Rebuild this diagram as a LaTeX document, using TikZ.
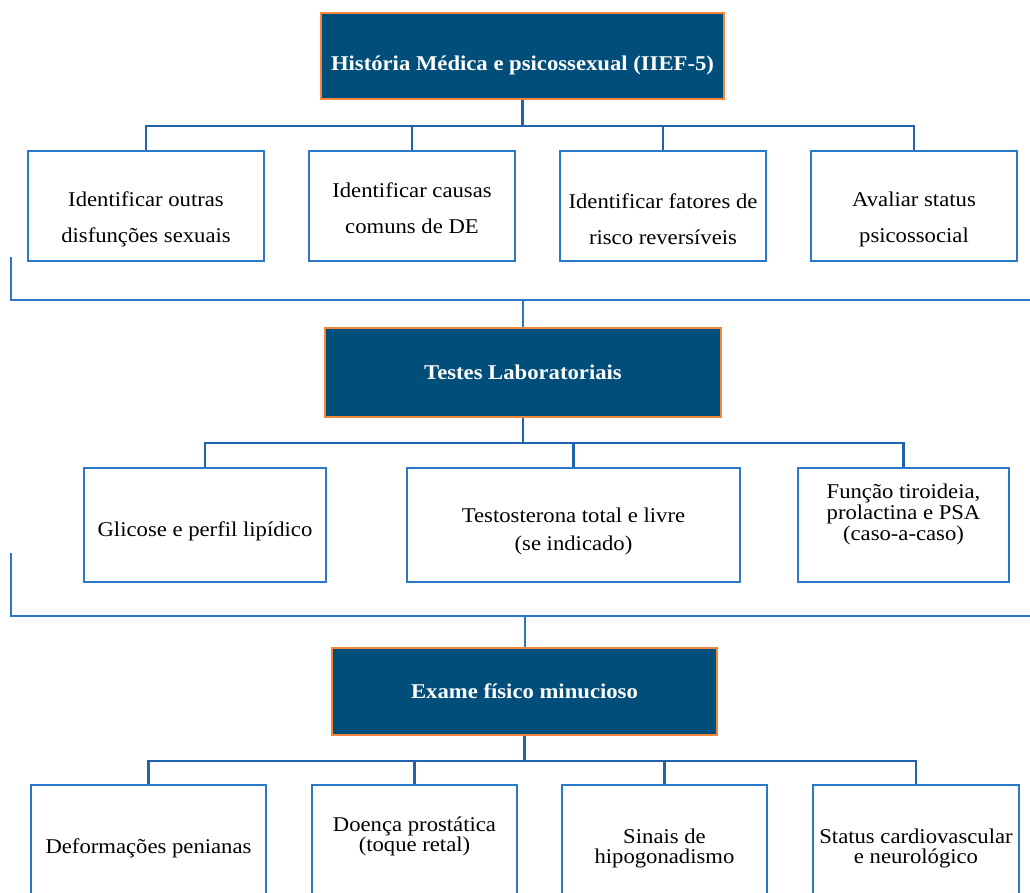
\documentclass[tikz,border=0pt]{standalone}
\usepackage{fontspec}
\setmainfont{Liberation Serif}[FakeStretch=1.08]
\usetikzlibrary{positioning}

\definecolor{hdrblue}{HTML}{024E7B}
\definecolor{hdrorange}{HTML}{F5873A}
\definecolor{boxblue}{HTML}{2A78CC}
\definecolor{linkblue}{HTML}{1F62AE}

\tikzset{
  header/.style={draw=hdrorange, fill=hdrblue, line width=1.8pt, text=white,
    font=\fontsize{21}{25}\selectfont\bfseries, inner sep=0pt},
  childbox/.style={draw=boxblue, line width=2pt, fill=white, inner sep=0pt},
  childtext/.style={align=center, inner sep=0pt, font=\fontsize{21}{#1}\selectfont},
  childtext/.default=25pt,
  link/.style={draw=linkblue, line width=2.2pt},
  bracket/.style={draw=boxblue, line width=2pt},
}

\begin{document}
\begin{tikzpicture}[x=1pt, y=-1pt]
  \useasboundingbox (0,0) rectangle (1030,893);
  \clip (0,0) rectangle (1030,893);

  % historia
  \node[header, minimum width=403pt, minimum height=86pt, text height=35pt, text depth=5pt] (hist) at (522.5,56) {História Médica e psicossexual (IIEF-5)};
  \node[childbox, minimum width=236pt, minimum height=110pt] (outras) at (146,206) {};
  \node[childbox, minimum width=206pt, minimum height=110pt] (causas) at (412,206) {};
  \node[childbox, minimum width=206pt, minimum height=110pt] (fatores) at (663,206) {};
  \node[childbox, minimum width=206pt, minimum height=110pt] (psico) at (914,206) {};
  \node[childtext=36pt] (t-outras) at (146,219) {Identificar outras\\disfunções sexuais};
  \node[childtext=36pt] (t-causas) at (412,208) {Identificar causas\\comuns de DE};
  \node[childtext=36pt] (t-fatores) at (663,219) {Identificar fatores de\\risco reversíveis};
  \node[childtext=36pt] (t-psico) at (914,219) {Avaliar status\\psicossocial};

  \coordinate (bus1) at (hist.south |- 0,126);
  \draw[link] (hist.south) -- (bus1);
  \draw[link] (outras.north) |- (bus1) -| (psico.north);
  \foreach \b in {causas,fatores}
    \draw[link] (\b.north) -- (\b.north |- bus1);

  % testes
  \node[header, minimum width=396pt, minimum height=89pt] (lab) at (523,372.5) {Testes Laboratoriais};
  \node[childbox, minimum width=242pt, minimum height=114pt] (glicose) at (205,525) {};
  \node[childbox, minimum width=333pt, minimum height=114pt] (testo) at (573.5,525) {};
  \node[childbox, minimum width=211pt, minimum height=114pt] (tiro) at (903.5,525) {};
  \node[childtext] (t-glicose) at (205,531) {Glicose e perfil lipídico};
  \node[childtext=28pt] (t-testo) at (573.5,531) {Testosterona total e livre\\(se indicado)};
  \node[childtext=21pt] (t-tiro) at (903.5,514) {Função tiroideia,\\prolactina e PSA\\(caso-a-caso)};

  \coordinate (brk1) at (10.5,257);
  \coordinate (brk1e) at (1034,300);
  \draw[bracket] (brk1) |- (brk1e);
  \draw[bracket] (lab.north) -- (lab.north |- brk1e);

  \coordinate (bus2) at (lab.south |- 0,443);
  \draw[link] (lab.south) -- (bus2);
  \draw[link] (glicose.north) |- (bus2) -| (tiro.north);
  \draw[link] (testo.north) -- (testo.north |- bus2);

  % exame
  \node[header, minimum width=385pt, minimum height=87pt] (exame) at (524.5,691.5) {Exame físico minucioso};
  \node[childbox, minimum width=235pt, minimum height=118pt] (deform) at (148.5,844) {};
  \node[childbox, minimum width=205pt, minimum height=118pt] (prost) at (414.5,844) {};
  \node[childbox, minimum width=205pt, minimum height=118pt] (hipo) at (664.5,844) {};
  \node[childbox, minimum width=206pt, minimum height=118pt] (cardio) at (916,844) {};
  \node[childtext] (t-deform) at (148.5,848) {Deformações penianas};
  \node[childtext=20pt] (t-prost) at (414.5,836) {Doença prostática\\(toque retal)};
  \node[childtext=20pt] (t-hipo) at (664.5,848.5) {Sinais de\\hipogonadismo};
  \node[childtext=20pt] (t-cardio) at (916,848) {Status cardiovascular\\e neurológico};

  \coordinate (brk2) at (10.5,553);
  \coordinate (brk2e) at (1034,616);
  \draw[bracket] (brk2) |- (brk2e);
  \draw[bracket] (exame.north) -- (exame.north |- brk2e);

  \coordinate (bus3) at (exame.south |- 0,761);
  \draw[link] (exame.south) -- (bus3);
  \draw[link] (deform.north) |- (bus3) -| (cardio.north);
  \foreach \b in {prost,hipo}
    \draw[link] (\b.north) -- (\b.north |- bus3);
\end{tikzpicture}
\end{document}
